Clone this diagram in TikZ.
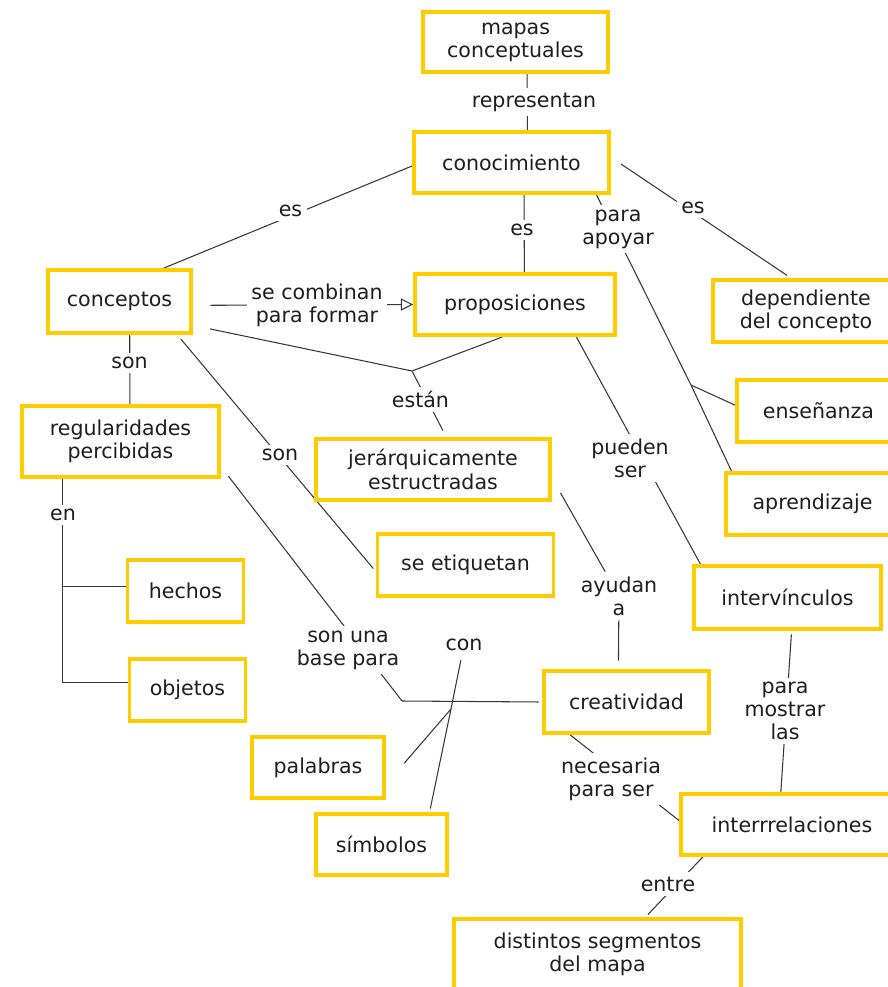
\documentclass[tikz,border=0pt]{standalone}
\usepackage{fontspec}
\setmainfont{DejaVu Sans}
\usepackage{xcolor}
\usepackage{tikz}
\usetikzlibrary{arrows.meta, backgrounds}
\definecolor{mapyellow}{RGB}{255,204,0}
\definecolor{linkgray}{RGB}{55,55,55}
\definecolor{textdark}{RGB}{30,30,30}

\begin{document}
\begin{tikzpicture}[x=0.02cm, y=-0.02cm, font=\fontsize{11.7}{13.2}\selectfont,
        box/.style={draw=mapyellow, line width=2.2pt, minimum width=#1,
                    minimum height=1.23cm, align=center, text=textdark},
        box/.default=3cm,
        lbl/.style={fill=white, inner sep=2.5pt, align=center, text=textdark},
        link/.style={draw=linkgray, line width=0.6pt}]
      \useasboundingbox (0,0) rectangle (887,987);
      % concepts
      \node[box=3.70cm, minimum height=1.20cm] (mapas) at (515.5,42) {mapas\\conceptuales};
      \node[box=3.90cm] (conocimiento) at (511.5,162.5) {conocimiento};
      \node[box=2.86cm, minimum height=1.26cm] (conceptos) at (119.5,301.5) {conceptos};
      \node[box=4.00cm] (proposiciones) at (515,304.5) {proposiciones};
      \node[box=3.72cm] (dependiente) at (806,311) {dependiente\\del concepto};
      \node[box=3.94cm, minimum height=1.42cm] (regularidades) at (120.5,441.5) {regularidades\\percibidas};
      \node[box=4.68cm] (jerarquicas) at (433,469.5) {jerárquicamente\\estructradas};
      \node[box=3.26cm] (ensenanza) at (818.5,411) {enseñanza};
      \node[box=3.46cm] (aprendizaje) at (812.5,504) {aprendizaje};
      \node[box=3.52cm] (etiquetan) at (465.5,565) {se etiquetan};
      \node[box=2.32cm] (hechos) at (185.5,591) {hechos};
      \node[box=2.32cm] (objetos) at (187.5,690) {objetos};
      \node[box=3.74cm, minimum height=1.26cm] (intervinculos) at (787.5,597.5) {intervínculos};
      \node[box=3.30cm] (creatividad) at (626.5,702) {creatividad};
      \node[box=2.64cm, minimum height=1.22cm] (palabras) at (318,767.5) {palabras};
      \node[box=2.62cm, minimum height=1.22cm] (simbolos) at (381.5,844.5) {símbolos};
      \node[box=4.44cm, minimum height=1.22cm] (interrelaciones) at (792,824.5) {interrrelaciones};
      \node[box=5.74cm, minimum height=1.42cm] (segmentos) at (597.5,954.5) {distintos segmentos\\del mapa};
      % linking words
      \node[lbl] (l-representan) at (534,102) {representan};
      \node[lbl] (l-es1) at (290.5,210.5) {es};
      \node[lbl] (l-es2) at (522,230) {es};
      \node[lbl] (l-es3) at (693,207.5) {es};
      \node[lbl] (l-apoyar) at (618,229) {para\\apoyar};
      \node[lbl] (l-combinan) at (317,305) {se combinan\\para formar};
      \node[lbl] (l-son1) at (129.5,363) {son};
      \node[lbl] (l-estan) at (420.5,399.5) {están};
      \node[lbl] (l-son2) at (280,455) {son};
      \node[lbl] (l-pueden) at (630,458) {pueden\\ser};
      \node[lbl] (l-en) at (63,515) {en};
      \node[lbl] (l-ayudan) at (619,596) {ayudan\\a};
      \node[lbl] (l-base) at (348,650) {son una\\base para};
      \node[lbl] (l-con) at (464,644.5) {con};
      \node[lbl] (l-necesaria) at (611,779) {necesaria\\para ser};
      \node[lbl] (l-mostrar) at (785,711) {para\\mostrar\\las};
      \node[lbl] (l-entre) at (668,884) {entre};
      % junctions
      \coordinate (apoyo) at (691,385);
      \coordinate (estan) at (412,371);
      \coordinate (base) at (402,701);
      \coordinate (con) at (451,709);
      \begin{scope}[on background layer]
        \draw[link] (mapas.-70) -- (conocimiento.64);
        \draw[link] (conocimiento.182) -- (conceptos.37);
        \draw[link] (conocimiento.-69) -- (proposiciones.74);
        \draw[link, shorten <=7pt, shorten >=3pt] (conocimiento.3) -- (dependiente.114);
        \draw[link] (conocimiento.-21) -- (apoyo) -- (aprendizaje.158);
        \draw[link] (apoyo) -- (ensenanza.176);
        \draw[link, shorten <=10pt, -{Triangle[open, length=7pt, width=7pt]}] (conceptos.-3) -- (proposiciones.180);
        \draw[link, shorten <=10pt] (conceptos.-18) -- (estan);
        \draw[link] (proposiciones.-112) -- (estan);
        \draw[link, shorten >=4pt] (estan) -- (jerarquicas.68);
        \draw[link] (conceptos.-73) -- (regularidades.76);
        \draw[link, shorten <=3pt, shorten >=2pt] (conceptos.-30) -- (etiquetan.184);
        \draw[link] (proposiciones.-28) -- (intervinculos.159);
        \draw[link, shorten <=10pt] (jerarquicas.-4) -- (l-ayudan);
        \draw[link, shorten >=5pt] (l-ayudan) -- (creatividad.104);
        \draw[link, shorten <=7pt, shorten >=2pt] (regularidades.-14) -- (base) -- (creatividad.180);
        \draw[link, shorten <=3pt, shorten >=2pt] (l-con) -- (con) -- (simbolos.34);
        \draw[link, shorten >=16pt] (con) -- (palabras.-14);
        \draw[link] (creatividad.-150) -- (interrelaciones.178);
        \draw[link, shorten <=2pt] (intervinculos.-83) -- (interrelaciones.109);
        \draw[link, shorten >=2pt] (interrelaciones.-160) -- (segmentos.38);
        \draw[link] (regularidades.-147) -- (regularidades.-147 |- objetos.173) -- (objetos.173);
        \draw[link] (regularidades.-147 |- hechos.176) -- (hechos.176);
      \end{scope}
    \end{tikzpicture}
\end{document}
